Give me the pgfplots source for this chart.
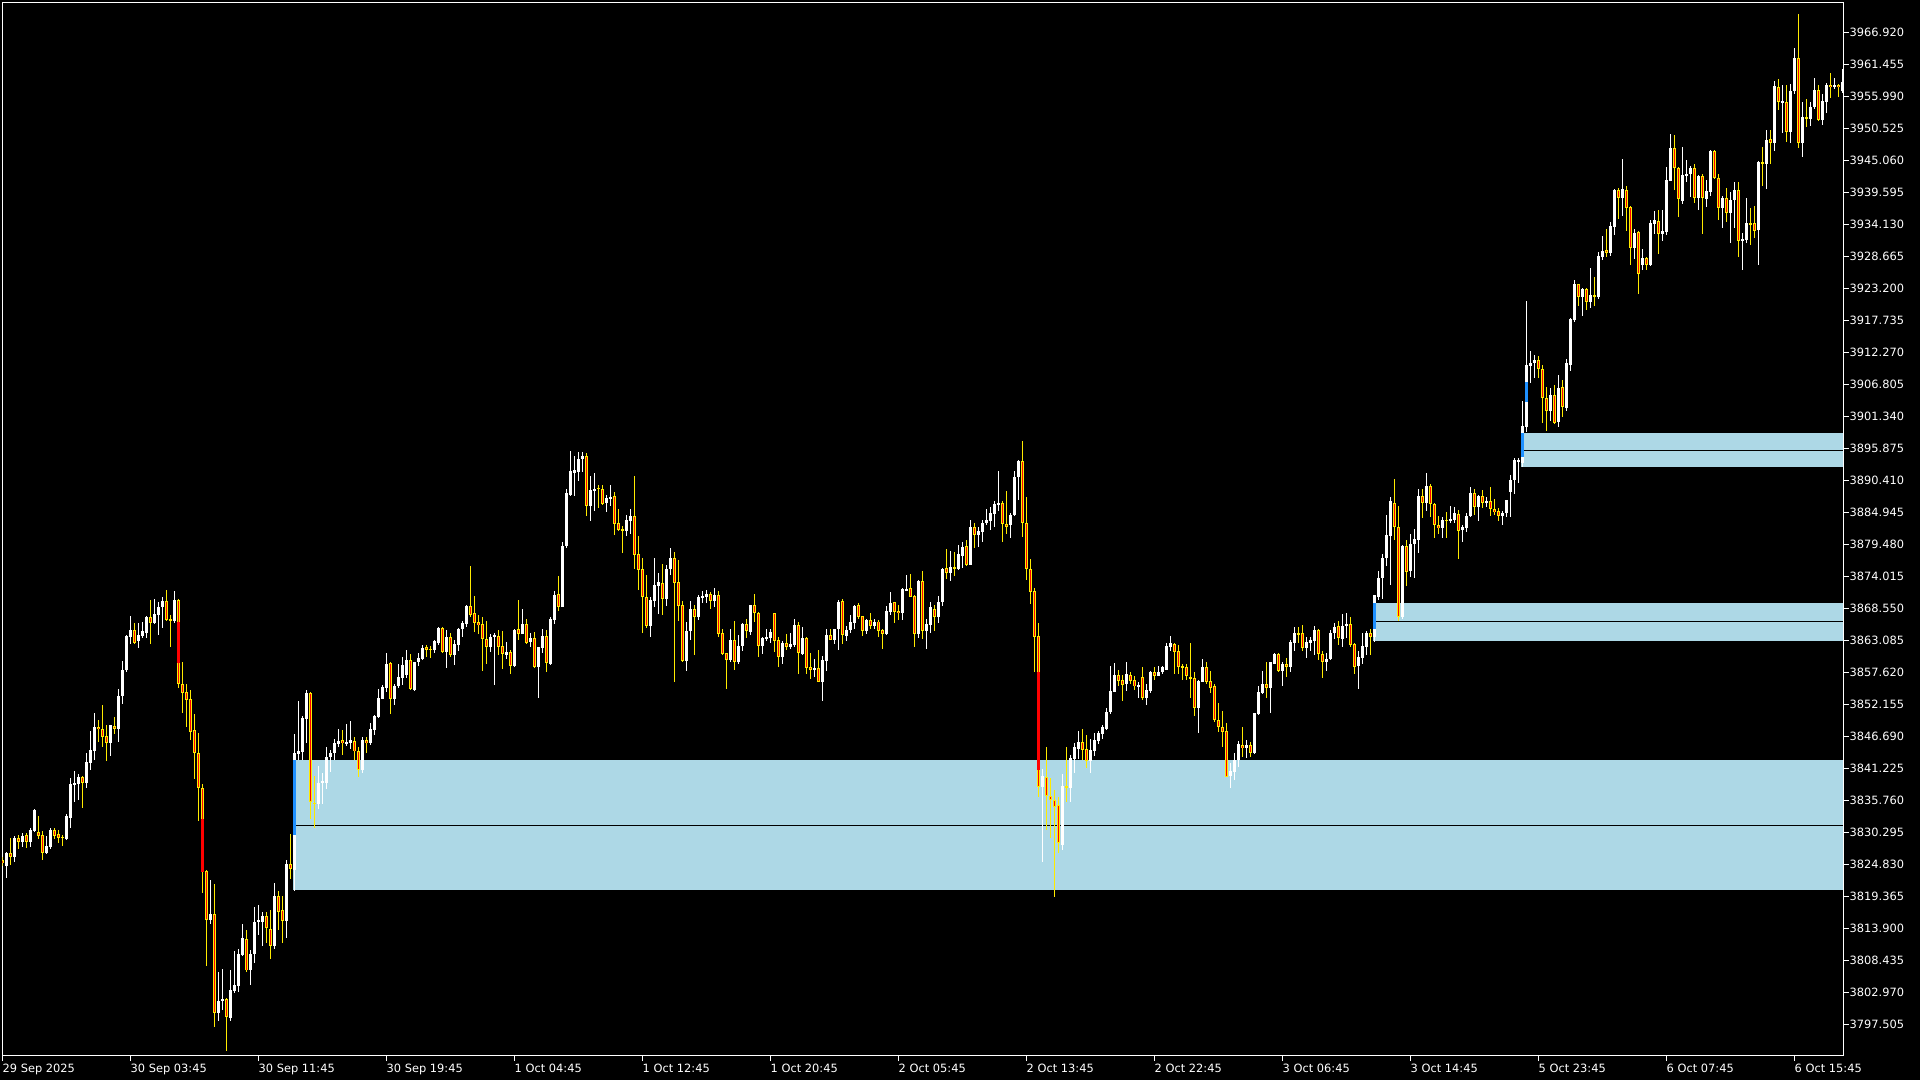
\documentclass[border=0pt]{standalone}
\usepackage{fontspec}
\setmainfont{DejaVu Sans}
\usepackage{pgfplots}
\usepackage{pgfplotstable}
\pgfplotsset{compat=1.18}
\definecolor{bearw}{RGB}{255,235,0}
\definecolor{bearb}{RGB}{255,0,0}
\definecolor{zonec}{RGB}{173,216,230}
\definecolor{obblue}{RGB}{30,144,255}

\pgfplotstableread{
i O H L C
0 3825.6 3826.1 3824.5 3825.0
1 3824.5 3827.0 3822.5 3826.8
2 3826.7 3829.3 3824.7 3826.0
3 3826.0 3829.6 3825.3 3829.4
4 3829.4 3829.8 3827.4 3828.7
5 3828.7 3830.1 3827.8 3829.7
6 3829.8 3830.2 3827.7 3828.7
7 3828.7 3831.0 3827.8 3830.7
8 3830.6 3834.2 3830.3 3834.1
9 3830.3 3833.1 3829.2 3829.7
10 3829.8 3830.5 3825.6 3826.8
11 3826.8 3829.6 3826.6 3828.0
12 3827.8 3831.1 3827.5 3830.7
13 3830.7 3831.0 3829.2 3829.7
14 3830.0 3830.7 3828.5 3829.4
15 3829.5 3829.8 3828.0 3829.4
16 3829.2 3833.4 3829.0 3833.0
17 3832.8 3839.5 3831.1 3838.5
18 3838.5 3840.7 3835.5 3838.6
19 3838.5 3840.2 3835.8 3839.8
20 3839.7 3840.0 3834.5 3838.8
21 3838.8 3843.8 3837.9 3842.3
22 3842.2 3847.6 3840.9 3844.4
23 3844.2 3850.6 3842.6 3848.3
24 3848.3 3849.5 3845.8 3847.9
25 3848.0 3852.0 3844.9 3846.6
26 3846.7 3848.6 3842.5 3845.6
27 3845.6 3848.7 3843.3 3848.6
28 3848.5 3850.0 3847.1 3848.0
29 3848.0 3854.8 3845.8 3853.6
30 3853.5 3859.6 3852.2 3858.1
31 3858.0 3864.0 3857.7 3863.8
32 3863.7 3867.2 3862.5 3864.8
33 3864.8 3866.1 3862.5 3862.7
34 3862.9 3866.1 3861.8 3864.0
35 3863.8 3866.3 3863.4 3864.6
36 3864.4 3867.3 3863.4 3867.1
37 3867.0 3870.0 3862.5 3866.1
38 3866.1 3870.1 3865.8 3867.6
39 3867.4 3869.7 3864.0 3868.7
40 3868.7 3870.4 3865.2 3869.8
41 3869.8 3871.7 3866.4 3866.6
42 3866.7 3867.4 3862.0 3866.5
43 3866.4 3871.5 3866.1 3870.0
44 3870.0 3870.1 3854.9 3855.6
45 3855.7 3859.4 3850.7 3854.1
46 3854.2 3855.6 3848.3 3852.9
47 3853.1 3854.6 3846.1 3847.5
48 3847.8 3850.5 3839.4 3843.8
49 3843.8 3847.3 3832.3 3837.8
50 3837.8 3838.5 3819.9 3823.6
51 3823.7 3823.9 3807.5 3815.4
52 3815.3 3822.1 3814.7 3816.3
53 3816.3 3821.5 3797.1 3799.5
54 3799.4 3806.4 3798.1 3801.5
55 3801.5 3807.0 3799.9 3801.9
56 3801.8 3802.0 3793.0 3798.7
57 3798.6 3806.7 3798.1 3803.4
58 3803.2 3810.0 3802.9 3804.2
59 3804.0 3810.4 3803.1 3809.5
60 3809.3 3814.6 3809.2 3812.2
61 3812.0 3813.6 3806.5 3806.7
62 3806.7 3810.2 3804.2 3809.6
63 3809.5 3817.6 3808.0 3814.9
64 3814.9 3817.9 3812.7 3815.3
65 3815.0 3816.7 3810.8 3816.0
66 3816.0 3816.7 3811.4 3813.9
67 3813.8 3817.0 3808.6 3810.8
68 3810.8 3821.7 3810.4 3819.4
69 3819.4 3820.3 3813.6 3816.7
70 3817.0 3819.4 3811.4 3815.2
71 3815.2 3825.5 3812.3 3824.9
72 3824.9 3830.0 3822.3 3824.1
73 3823.9 3847.1 3820.3 3843.9
74 3843.7 3852.7 3842.6 3844.1
75 3844.0 3850.2 3842.6 3849.9
76 3849.7 3854.6 3845.6 3854.1
77 3854.1 3854.3 3832.5 3835.4
78 3835.3 3840.0 3831.1 3835.2
79 3835.1 3841.6 3834.3 3838.8
80 3838.7 3840.5 3835.1 3839.1
81 3838.8 3844.8 3837.7 3843.2
82 3843.1 3844.4 3840.6 3843.9
83 3843.8 3846.2 3842.6 3845.6
84 3845.4 3847.9 3844.9 3845.9
85 3846.1 3847.7 3843.5 3845.5
86 3845.4 3848.8 3845.0 3845.7
87 3845.6 3849.3 3844.5 3846.1
88 3845.9 3846.5 3842.6 3844.1
89 3844.1 3844.9 3839.7 3841.0
90 3840.9 3846.5 3840.5 3846.1
91 3846.1 3846.6 3843.8 3845.5
92 3845.5 3849.0 3845.2 3847.9
93 3847.8 3850.3 3846.9 3850.2
94 3850.0 3854.8 3849.9 3853.3
95 3853.1 3855.5 3853.0 3855.2
96 3854.9 3860.9 3854.3 3859.0
97 3859.2 3859.3 3850.5 3853.1
98 3853.1 3855.6 3852.0 3855.3
99 3855.2 3859.0 3855.0 3856.8
100 3856.7 3860.2 3855.4 3858.9
101 3857.2 3861.4 3856.6 3859.7
102 3859.7 3860.7 3854.6 3854.7
103 3854.6 3859.4 3854.5 3859.3
104 3859.3 3861.0 3858.7 3860.0
105 3859.9 3862.3 3859.7 3861.8
106 3861.9 3862.3 3860.3 3861.5
107 3861.6 3862.1 3860.0 3861.5
108 3861.5 3863.1 3860.9 3863.0
109 3862.7 3865.3 3862.3 3865.2
110 3865.2 3865.4 3861.0 3861.1
111 3861.1 3864.8 3858.3 3863.6
112 3863.6 3864.4 3860.3 3860.5
113 3860.5 3863.1 3858.9 3862.5
114 3862.3 3865.2 3861.3 3865.1
115 3865.0 3866.4 3863.7 3866.1
116 3865.9 3869.1 3865.4 3869.0
117 3868.9 3875.7 3867.1 3867.4
118 3867.7 3870.6 3864.5 3866.1
119 3866.2 3867.4 3864.2 3865.7
120 3865.9 3867.0 3857.9 3863.3
121 3863.3 3866.4 3859.0 3862.0
122 3862.0 3864.2 3861.1 3863.6
123 3863.6 3864.4 3855.4 3864.0
124 3863.8 3864.8 3860.6 3862.0
125 3862.1 3864.7 3858.2 3860.8
126 3860.6 3862.8 3859.9 3861.1
127 3861.1 3861.5 3857.4 3858.7
128 3858.7 3865.0 3858.6 3864.8
129 3865.0 3870.0 3863.1 3864.2
130 3864.2 3868.4 3864.1 3865.9
131 3865.9 3866.7 3862.4 3862.7
132 3862.8 3864.4 3862.0 3863.4
133 3863.4 3864.5 3858.3 3858.5
134 3858.5 3862.0 3853.3 3861.9
135 3861.8 3865.0 3860.9 3863.8
136 3863.8 3864.8 3857.7 3859.2
137 3859.0 3867.1 3858.9 3866.7
138 3866.5 3871.5 3865.9 3870.8
139 3871.0 3874.1 3868.1 3868.8
140 3868.8 3879.8 3868.7 3879.2
141 3879.2 3889.0 3878.9 3888.2
142 3887.9 3895.5 3887.7 3892.0
143 3891.7 3894.5 3887.7 3892.1
144 3891.9 3895.2 3890.3 3894.0
145 3894.0 3895.3 3891.9 3894.6
146 3894.6 3895.0 3884.4 3886.1
147 3886.1 3891.1 3883.5 3888.7
148 3888.6 3891.6 3885.2 3889.0
149 3889.1 3889.6 3885.6 3889.0
150 3888.9 3889.6 3886.2 3886.3
151 3886.5 3887.9 3885.0 3887.4
152 3887.2 3889.6 3886.1 3887.6
153 3887.7 3888.4 3881.1 3882.9
154 3883.1 3885.5 3881.8 3881.9
155 3882.0 3882.6 3878.0 3881.9
156 3881.8 3884.5 3880.9 3883.6
157 3883.5 3885.5 3881.3 3884.3
158 3884.3 3891.1 3875.3 3877.6
159 3877.8 3880.9 3871.7 3875.1
160 3875.3 3877.1 3864.4 3870.4
161 3870.5 3874.2 3865.2 3865.5
162 3865.5 3870.5 3863.7 3870.0
163 3869.8 3877.2 3868.8 3872.5
164 3872.4 3874.6 3867.6 3873.1
165 3872.9 3876.1 3867.4 3870.1
166 3870.1 3875.9 3868.9 3875.3
167 3875.3 3878.9 3874.3 3877.2
168 3877.1 3878.1 3856.0 3872.9
169 3873.1 3876.8 3866.4 3869.0
170 3869.1 3869.8 3859.3 3859.5
171 3859.5 3866.2 3857.8 3864.7
172 3864.6 3869.8 3863.2 3868.4
173 3868.4 3869.1 3860.6 3867.1
174 3867.1 3870.8 3866.5 3870.5
175 3870.4 3871.5 3869.4 3870.7
176 3870.5 3871.7 3869.4 3871.0
177 3871.0 3871.4 3868.5 3869.8
178 3869.8 3872.1 3868.8 3870.8
179 3870.8 3871.5 3863.7 3864.1
180 3864.3 3865.1 3860.6 3860.7
181 3860.9 3861.0 3854.8 3859.8
182 3859.7 3865.0 3859.3 3863.1
183 3863.1 3866.4 3858.1 3859.4
184 3859.4 3864.0 3859.0 3862.1
185 3862.1 3866.0 3861.3 3865.9
186 3865.8 3866.7 3863.4 3864.6
187 3864.5 3869.2 3864.0 3869.1
188 3869.1 3871.0 3866.3 3867.7
189 3867.8 3868.0 3860.3 3862.2
190 3862.2 3863.7 3860.7 3863.5
191 3863.3 3865.1 3862.9 3863.6
192 3863.5 3865.1 3862.7 3864.5
193 3867.7 3867.8 3861.1 3862.9
194 3863.1 3863.6 3858.6 3860.2
195 3860.2 3862.9 3859.0 3862.6
196 3862.7 3864.1 3861.4 3862.0
197 3862.0 3864.4 3861.6 3862.5
198 3862.3 3866.7 3862.0 3865.7
199 3865.7 3866.2 3857.3 3860.9
200 3860.7 3865.3 3860.6 3863.4
201 3863.4 3863.7 3857.4 3858.4
202 3858.6 3860.9 3856.4 3858.0
203 3858.0 3859.9 3856.9 3858.4
204 3858.3 3861.4 3855.9 3856.0
205 3856.0 3860.4 3852.7 3859.7
206 3859.6 3865.0 3857.9 3864.0
207 3864.0 3865.1 3863.1 3863.1
208 3863.1 3865.1 3862.4 3865.0
209 3865.0 3870.0 3861.4 3869.7
210 3869.8 3870.1 3862.4 3864.0
211 3863.9 3865.5 3863.0 3864.8
212 3864.8 3867.4 3864.3 3866.2
213 3866.1 3869.1 3865.0 3869.0
214 3869.1 3869.5 3866.7 3867.0
215 3867.2 3867.2 3863.9 3864.6
216 3864.6 3866.7 3864.2 3866.6
217 3866.6 3867.7 3865.0 3865.5
218 3865.6 3866.7 3865.0 3866.3
219 3866.3 3866.6 3863.7 3864.7
220 3864.8 3865.0 3861.6 3864.1
221 3864.1 3868.9 3864.0 3868.1
222 3868.0 3871.3 3867.4 3869.4
223 3869.6 3869.7 3866.1 3868.0
224 3868.1 3869.1 3866.6 3867.7
225 3867.8 3872.0 3866.6 3871.8
226 3871.7 3874.2 3871.5 3871.8
227 3872.0 3874.4 3870.4 3870.5
228 3870.7 3870.8 3862.0 3864.2
229 3864.2 3873.4 3863.5 3873.3
230 3873.2 3874.9 3863.3 3864.7
231 3864.6 3866.7 3861.6 3865.9
232 3865.7 3869.6 3864.4 3868.7
233 3868.4 3869.1 3864.6 3867.0
234 3867.0 3870.6 3866.1 3869.7
235 3869.7 3875.5 3869.0 3875.3
236 3875.4 3878.6 3873.6 3874.6
237 3874.5 3878.3 3873.3 3875.6
238 3875.5 3878.1 3874.1 3875.4
239 3875.3 3879.4 3875.1 3877.8
240 3877.5 3879.8 3875.5 3879.1
241 3879.2 3880.3 3875.7 3876.0
242 3876.0 3883.7 3875.9 3882.4
243 3882.4 3883.1 3878.8 3881.0
244 3881.0 3882.4 3879.1 3881.7
245 3881.6 3883.6 3879.8 3883.2
246 3883.1 3885.5 3882.8 3883.6
247 3883.5 3885.9 3881.9 3884.8
248 3884.7 3886.8 3882.5 3886.3
249 3886.2 3892.0 3885.2 3886.5
250 3886.5 3886.8 3879.9 3882.9
251 3882.9 3888.6 3881.2 3882.5
252 3882.7 3884.9 3880.6 3884.5
253 3884.5 3892.0 3884.3 3890.9
254 3890.9 3893.9 3887.0 3893.7
255 3893.7 3897.1 3880.8 3883.1
256 3883.1 3887.6 3873.4 3875.2
257 3875.3 3877.0 3869.3 3871.4
258 3871.5 3872.1 3857.6 3863.7
259 3863.8 3866.0 3836.4 3838.1
260 3838.1 3841.1 3825.3 3839.9
261 3839.7 3844.8 3830.7 3836.5
262 3836.5 3839.6 3829.4 3835.9
263 3835.8 3837.6 3819.3 3834.7
264 3835.0 3836.3 3826.7 3828.4
265 3828.2 3840.3 3827.2 3838.2
266 3838.2 3844.8 3835.5 3838.0
267 3837.9 3843.5 3835.4 3843.0
268 3842.9 3845.5 3840.5 3844.8
269 3844.6 3847.6 3842.9 3845.7
270 3845.7 3847.9 3842.6 3844.3
271 3844.5 3846.9 3841.3 3842.4
272 3842.4 3846.2 3840.5 3844.3
273 3844.2 3847.3 3843.4 3846.1
274 3845.9 3847.6 3845.3 3847.2
275 3847.1 3848.6 3846.2 3848.2
276 3847.9 3851.5 3847.8 3850.8
277 3850.8 3858.7 3850.5 3854.4
278 3854.3 3859.2 3854.2 3857.2
279 3857.2 3858.0 3855.3 3856.1
280 3856.3 3857.2 3852.8 3855.4
281 3855.6 3859.3 3854.4 3857.3
282 3857.2 3857.6 3855.7 3856.2
283 3856.3 3857.0 3854.6 3855.2
284 3855.2 3855.9 3853.3 3855.4
285 3856.8 3858.5 3852.9 3853.3
286 3853.2 3855.6 3852.1 3854.6
287 3854.4 3857.9 3854.1 3857.6
288 3857.6 3858.5 3856.3 3857.0
289 3857.0 3858.7 3857.0 3857.6
290 3857.6 3858.7 3857.4 3858.6
291 3858.1 3862.7 3858.0 3862.1
292 3862.0 3863.9 3861.3 3862.6
293 3862.4 3862.7 3857.3 3861.1
294 3861.3 3862.3 3857.4 3858.6
295 3858.7 3859.1 3856.3 3858.4
296 3858.5 3859.1 3856.3 3857.0
297 3856.8 3862.7 3853.3 3856.6
298 3856.6 3857.6 3850.1 3851.6
299 3851.6 3856.3 3847.2 3856.1
300 3856.0 3859.9 3855.9 3858.6
301 3858.5 3859.3 3855.6 3856.0
302 3856.1 3857.8 3854.1 3855.0
303 3855.2 3855.6 3849.2 3849.4
304 3849.5 3852.4 3847.5 3848.2
305 3848.2 3851.0 3844.9 3847.5
306 3847.6 3848.9 3839.7 3839.8
307 3839.9 3842.2 3837.9 3840.8
308 3840.6 3843.8 3839.2 3842.7
309 3842.6 3845.9 3841.5 3845.3
310 3845.2 3848.2 3843.2 3844.7
311 3844.7 3846.1 3843.0 3845.2
312 3845.2 3845.7 3843.2 3843.9
313 3843.8 3850.7 3843.7 3850.6
314 3850.5 3855.3 3850.3 3854.3
315 3854.1 3857.9 3853.9 3855.6
316 3855.6 3859.3 3853.2 3855.0
317 3855.0 3859.4 3850.7 3859.3
318 3859.1 3861.0 3859.0 3860.7
319 3860.7 3861.0 3857.6 3857.9
320 3857.9 3859.4 3855.2 3859.1
321 3859.1 3860.1 3856.9 3858.6
322 3858.6 3863.1 3857.7 3862.8
323 3862.7 3865.3 3861.3 3864.4
324 3864.4 3865.3 3862.7 3864.1
325 3864.3 3865.7 3861.3 3861.7
326 3861.7 3863.6 3860.1 3862.8
327 3862.7 3863.7 3861.3 3863.1
328 3863.0 3865.5 3860.6 3864.8
329 3864.8 3865.0 3859.7 3860.7
330 3860.7 3861.2 3856.7 3859.3
331 3859.3 3860.9 3857.9 3859.9
332 3859.9 3864.8 3859.8 3864.4
333 3864.3 3866.0 3863.3 3865.3
334 3865.5 3866.4 3862.3 3863.4
335 3863.3 3867.6 3862.0 3865.5
336 3865.5 3867.7 3863.5 3865.9
337 3865.8 3867.1 3862.0 3862.3
338 3862.4 3862.6 3857.3 3858.6
339 3858.7 3861.2 3854.7 3860.2
340 3860.1 3864.4 3859.1 3862.1
341 3862.0 3864.6 3860.5 3864.3
342 3864.3 3865.1 3860.5 3863.7
343 3863.7 3870.9 3862.8 3870.8
344 3870.5 3874.9 3870.0 3873.8
345 3873.8 3877.8 3870.1 3877.1
346 3877.2 3884.5 3875.8 3881.1
347 3880.9 3887.5 3872.6 3886.9
348 3886.6 3890.6 3880.2 3882.5
349 3882.5 3886.0 3866.4 3867.1
350 3867.1 3879.3 3866.7 3879.2
351 3879.2 3880.2 3872.4 3874.8
352 3874.9 3881.3 3873.9 3879.6
353 3879.5 3882.1 3873.8 3880.4
354 3880.2 3889.0 3878.0 3887.7
355 3887.7 3888.9 3883.9 3886.6
356 3886.6 3891.6 3885.2 3889.4
357 3889.4 3889.8 3884.2 3886.3
358 3886.4 3886.6 3880.5 3882.7
359 3882.8 3884.3 3881.2 3882.2
360 3882.2 3884.2 3880.6 3883.6
361 3883.7 3885.0 3880.6 3883.5
362 3883.5 3886.0 3883.2 3883.8
363 3883.6 3885.9 3883.2 3884.8
364 3884.6 3885.3 3876.9 3881.8
365 3881.9 3882.8 3879.9 3882.4
366 3882.2 3884.9 3881.5 3884.3
367 3884.3 3889.3 3884.1 3888.3
368 3888.3 3888.9 3884.5 3885.9
369 3885.9 3887.9 3883.5 3887.7
370 3887.7 3888.7 3885.6 3886.6
371 3886.6 3887.6 3885.9 3886.9
372 3886.9 3889.3 3884.3 3885.5
373 3885.5 3887.2 3884.5 3885.0
374 3885.2 3885.6 3883.5 3884.3
375 3884.3 3885.2 3882.8 3884.9
376 3884.8 3887.1 3884.2 3887.0
377 3888.5 3891.3 3884.1 3890.5
378 3890.5 3894.2 3888.0 3893.8
379 3893.6 3894.3 3890.0 3893.8
380 3893.4 3904.0 3892.6 3899.7
381 3899.6 3921.0 3898.6 3910.1
382 3910.0 3912.5 3907.1 3910.5
383 3910.5 3911.8 3907.8 3911.0
384 3911.0 3911.6 3907.8 3909.4
385 3909.5 3910.1 3900.2 3904.4
386 3904.4 3906.3 3898.9 3902.3
387 3902.3 3906.1 3900.6 3905.0
388 3905.0 3906.7 3900.0 3900.2
389 3900.4 3908.4 3899.6 3906.2
390 3906.3 3907.5 3901.3 3903.0
391 3902.7 3911.1 3902.3 3910.4
392 3910.1 3918.2 3909.0 3917.9
393 3917.8 3924.6 3917.5 3923.9
394 3923.9 3924.0 3920.2 3921.8
395 3921.8 3923.2 3918.5 3923.1
396 3923.1 3923.3 3919.5 3920.9
397 3920.9 3926.7 3919.9 3922.0
398 3922.0 3925.1 3920.2 3921.9
399 3921.8 3929.4 3921.4 3928.7
400 3928.6 3932.1 3928.0 3929.6
401 3929.7 3933.4 3928.6 3929.3
402 3929.3 3934.5 3928.8 3933.8
403 3933.7 3940.1 3932.3 3940.0
404 3940.0 3940.3 3935.0 3938.7
405 3938.6 3945.3 3935.6 3940.1
406 3940.0 3940.7 3933.0 3937.0
407 3937.1 3937.2 3927.2 3930.1
408 3930.1 3933.3 3928.2 3932.6
409 3932.9 3933.0 3922.2 3925.7
410 3927.1 3929.9 3926.3 3928.3
411 3928.3 3928.6 3926.3 3927.1
412 3927.1 3934.9 3927.0 3934.3
413 3934.2 3936.4 3932.4 3934.9
414 3934.7 3936.6 3929.1 3932.4
415 3932.4 3936.6 3931.2 3933.0
416 3932.9 3943.9 3932.3 3941.7
417 3941.6 3949.5 3941.5 3947.1
418 3947.1 3949.4 3940.0 3943.7
419 3943.7 3943.9 3935.3 3938.4
420 3938.1 3947.3 3937.6 3942.5
421 3942.3 3945.1 3941.4 3942.8
422 3942.7 3944.1 3938.8 3943.7
423 3943.7 3944.4 3937.8 3938.7
424 3938.7 3942.5 3936.5 3942.4
425 3942.4 3942.7 3932.5 3938.6
426 3938.4 3941.7 3937.1 3939.8
427 3939.7 3946.8 3939.0 3946.7
428 3946.7 3946.8 3941.9 3942.1
429 3942.1 3942.8 3934.9 3937.0
430 3936.9 3939.0 3933.5 3938.7
431 3938.7 3940.4 3934.5 3936.0
432 3936.0 3939.7 3931.0 3938.3
433 3938.2 3941.4 3933.5 3940.0
434 3940.0 3941.4 3928.6 3931.2
435 3931.2 3932.6 3926.3 3931.6
436 3931.4 3938.7 3931.0 3934.3
437 3934.3 3937.0 3930.6 3934.2
438 3934.3 3937.3 3931.8 3933.0
439 3933.1 3945.0 3927.1 3944.8
440 3944.7 3947.3 3940.7 3944.6
441 3944.5 3950.2 3940.2 3948.5
442 3948.7 3950.2 3944.4 3948.1
443 3948.0 3958.6 3946.7 3957.7
444 3957.6 3958.9 3953.6 3955.0
445 3955.0 3957.9 3949.7 3955.1
446 3955.1 3957.9 3948.2 3949.9
447 3949.9 3958.1 3948.0 3956.9
448 3956.9 3964.3 3956.3 3962.6
449 3962.6 3970.0 3947.2 3948.1
450 3948.1 3955.1 3945.7 3952.4
451 3952.4 3955.5 3950.8 3952.3
452 3952.2 3955.1 3951.0 3954.2
453 3954.1 3959.1 3953.9 3957.1
454 3957.1 3957.9 3951.7 3951.9
455 3951.9 3956.3 3951.1 3955.2
456 3955.1 3958.2 3953.1 3957.9
457 3957.9 3959.9 3955.7 3957.5
458 3957.5 3959.1 3957.3 3957.9
459 3958.0 3958.1 3955.9 3957.5
460 3956.9 3960.6 3956.5 3958.4
}\candles

\pgfplotstableread{
i top bot
44 3866.26 3859.26
50 3832.51 3823.57
259 3857.62 3840.94
}\fvgred

\pgfplotstableread{
i top bot
73 3842.64 3829.83
343 3869.51 3865.01
380 3898.48 3894.33
381 3907.14 3903.84
}\obmark

\pgfplotsset{
  base/.style={
    at={(1.15pt,12.15pt)}, anchor=south west,
    scale only axis, width=920.5pt, height=526.5pt,
    xmin=0, xmax=460.25, ymin=3792.15, ymax=3971.98,
    clip=true,
  },
  hidden/.style={base, hide axis},
  seg/.style={draw=none, mark=none, restrict y to domain=3780:3990,
    error bars/.cd, y dir=both, y explicit, error mark=none,
    error bar style={draw=#1}},
}

\begin{document}
\begin{tikzpicture}
\useasboundingbox (0,0) rectangle (960pt,540pt);
\fill[black] (0,0) rectangle (960pt,540pt);
% axis frame, ticks, zones
\begin{axis}[base,
  axis line style={white, line width=0.5pt},
  tick style={white, line width=0.5pt},
  tick align=outside,
  major tick length=2.75pt,
  xtick pos=bottom, ytick pos=right,
  xtick={0,32,64,96,128,160,192,224,256,288,320,352,384,416,448},
  xticklabels={29 Sep 2025,30 Sep 03:45,30 Sep 11:45,30 Sep 19:45,1 Oct 04:45,1 Oct 12:45,1 Oct 20:45,2 Oct 05:45,2 Oct 13:45,2 Oct 22:45,3 Oct 06:45,3 Oct 14:45,5 Oct 23:45,6 Oct 07:45,6 Oct 15:45},
  ytick={3797.505,3802.970,3808.435,3813.900,3819.365,3824.830,3830.295,3835.760,3841.225,3846.690,3852.155,3857.620,3863.085,3868.550,3874.015,3879.480,3884.945,3890.410,3895.875,3901.340,3906.805,3912.270,3917.735,3923.200,3928.665,3934.130,3939.595,3945.060,3950.525,3955.990,3961.455,3966.920},
  yticklabels={3797.505,3802.970,3808.435,3813.900,3819.365,3824.830,3830.295,3835.760,3841.225,3846.690,3852.155,3857.620,3863.085,3868.550,3874.015,3879.480,3884.945,3890.410,3895.875,3901.340,3906.805,3912.270,3917.735,3923.200,3928.665,3934.130,3939.595,3945.060,3950.525,3955.990,3961.455,3966.920},
  tick label style={font=\fontsize{5.7}{6.8}\selectfont, text=white},
  xticklabel style={anchor=north west, inner sep=0pt},
  yticklabel style={anchor=west, inner sep=0pt},
  xticklabel shift=1pt,
  yticklabel shift=0.25pt,
]
\addplot[fill=zonec, draw=none] coordinates {(72.68,3820.44) (460.25,3820.44) (460.25,3842.64) (72.68,3842.64)} -- cycle;
\addplot[fill=zonec, draw=none] coordinates {(342.75,3863.02) (460.25,3863.02) (460.25,3869.51) (342.75,3869.51)} -- cycle;
\addplot[fill=zonec, draw=none] coordinates {(379.75,3892.68) (460.25,3892.68) (460.25,3898.49) (379.75,3898.49)} -- cycle;
\addplot[black, line width=0.5pt] coordinates {(73.4,3831.5) (460.25,3831.5)};
\addplot[black, line width=0.5pt] coordinates {(343.4,3866.25) (460.25,3866.25)};
\addplot[black, line width=0.5pt] coordinates {(380.4,3895.55) (460.25,3895.55)};
\end{axis}
% bull wicks
\begin{axis}[hidden]
\addplot[seg={white, line width=0.5pt}]
  table[x=i, y expr={\thisrow{C}>=\thisrow{O} ? 0.5*(\thisrow{H}+\thisrow{L}) : 3700}, y error expr={0.5*(\thisrow{H}-\thisrow{L})}] {\candles};
\end{axis}
% bear wicks
\begin{axis}[hidden]
\addplot[seg={bearw, line width=0.5pt}]
  table[x=i, y expr={\thisrow{C}<\thisrow{O} ? 0.5*(\thisrow{H}+\thisrow{L}) : 3700}, y error expr={0.5*(\thisrow{H}-\thisrow{L})}] {\candles};
\end{axis}
% bull bodies
\begin{axis}[hidden]
\addplot[seg={white, line width=1.5pt}]
  table[x=i, y expr={\thisrow{C}>=\thisrow{O} ? 0.5*(\thisrow{O}+\thisrow{C}) : 3700}, y error expr={max(0.5*abs(\thisrow{C}-\thisrow{O}),0.0854)}] {\candles};
\end{axis}
% bear bodies outline
\begin{axis}[hidden]
\addplot[seg={bearw, line width=1.5pt}]
  table[x=i, y expr={\thisrow{C}<\thisrow{O} ? 0.5*(\thisrow{O}+\thisrow{C}) : 3700}, y error expr={max(0.5*abs(\thisrow{C}-\thisrow{O}),0.0854)}] {\candles};
\end{axis}
% bear bodies fill
\begin{axis}[hidden]
\addplot[seg={bearb, line width=0.5pt}]
  table[x=i, y expr={\thisrow{C}<\thisrow{O} ? 0.5*(\thisrow{O}+\thisrow{C}) : 3700}, y error expr={max(0.5*abs(\thisrow{C}-\thisrow{O})-0.17,0)}] {\candles};
\end{axis}
% FVG / OB marks
\begin{axis}[hidden]
\addplot[seg={bearb, line width=1.5pt}]
  table[x=i, y expr={0.5*(\thisrow{top}+\thisrow{bot})}, y error expr={0.5*(\thisrow{top}-\thisrow{bot})}] {\fvgred};
\addplot[seg={obblue, line width=1.5pt}]
  table[x=i, y expr={0.5*(\thisrow{top}+\thisrow{bot})}, y error expr={0.5*(\thisrow{top}-\thisrow{bot})}] {\obmark};
\end{axis}
\end{tikzpicture}
\end{document}
